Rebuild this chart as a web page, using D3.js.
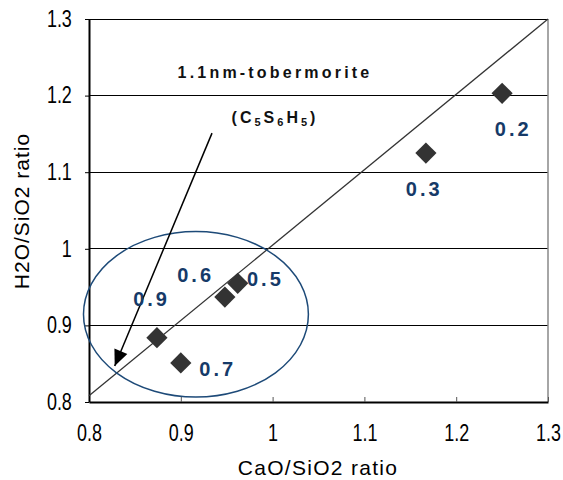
<!DOCTYPE html>
<html><head><meta charset="utf-8">
<script src="https://cdn.jsdelivr.net/npm/d3@7/dist/d3.min.js"></script>
<style>body{margin:0;background:#fff}svg{display:block}</style>
</head><body>
<script>
const xTicks = [0.8, 0.9, 1.0, 1.1, 1.2, 1.3];
const xTickLabels = ["0.8", "0.9", "1", "1.1", "1.2", "1.3"];
const yTicks = [0.8, 0.9, 1.0, 1.1, 1.2, 1.3];
const yTickLabels = ["0.8", "0.9", "1", "1.1", "1.2", "1.3"];
const pointLabels = ["0.2", "0.3", "0.5", "0.6", "0.9", "0.7"];
const caoSio2 = [1.250, 1.167, 0.962, 0.948, 0.874, 0.900];
const h2oSio2 = [1.203, 1.125, 0.955, 0.937, 0.884, 0.851];
// label anchor positions in data units
const labelX = [1.26, 1.163, 0.99, 0.914, 0.866, 0.938];
const labelY = [1.156, 1.078, 0.961, 0.966, 0.934, 0.843];
const refLine = [[0.8, 0.808], [1.3, 1.3]];
const arrowFrom = [0.934, 1.151];
const arrowTo = [0.828, 0.847];
const ellipseC = [0.9165, 0.9145];
const ellipseR = [0.1225, 0.108];

const W = 563, H = 480;
const m = {l: 89, r: 548, t: 19, b: 402};
const svg = d3.select("body").append("svg").attr("width", W).attr("height", H);
const x = d3.scaleLinear().domain([0.8, 1.3]).range([m.l, m.r]);
const y = d3.scaleLinear().domain([0.8, 1.3]).range([m.b, m.t]);
const font = "'Liberation Sans', Arial, sans-serif";
const sx = 0.78;

// gridlines
svg.append("g").selectAll("line").data(yTicks.slice(1)).join("line")
  .attr("x1", m.l).attr("x2", m.r).attr("y1", d => y(d)).attr("y2", d => y(d))
  .attr("stroke", "#000").attr("stroke-width", 1).attr("shape-rendering", "crispEdges");
// right border
svg.append("line").attr("x1", m.r).attr("x2", m.r).attr("y1", m.t).attr("y2", m.b)
  .attr("stroke", "#888").attr("stroke-width", 1.5);

// axes
const xAxis = d3.axisBottom(x).tickValues(xTicks).tickFormat((d, i) => xTickLabels[i])
  .tickSizeInner(-5).tickSizeOuter(0).tickPadding(23);
const gx = svg.append("g").attr("transform", `translate(0,${m.b})`).call(xAxis);
gx.select(".domain").attr("stroke", "#000").attr("stroke-width", 2);
gx.selectAll(".tick line").attr("stroke", "#555");
gx.selectAll("text").attr("font-family", font).attr("font-size", 23).attr("fill", "#000")
  .attr("transform", `scale(${sx},1)`);

const yAxis = d3.axisLeft(y).tickValues(yTicks).tickFormat((d, i) => yTickLabels[i])
  .tickSizeInner(4).tickSizeOuter(0).tickPadding(18);
const gy = svg.append("g").attr("transform", `translate(${m.l},0)`).call(yAxis);
gy.select(".domain").attr("stroke", "#000").attr("stroke-width", 2);
gy.selectAll(".tick line").attr("stroke", "#000");
gy.selectAll("text").attr("font-family", font).attr("font-size", 23).attr("fill", "#000")
  .attr("transform", `scale(${sx},1)`);

// reference line
svg.append("line")
  .attr("x1", x(refLine[0][0])).attr("y1", y(refLine[0][1]))
  .attr("x2", x(refLine[1][0])).attr("y2", y(refLine[1][1]))
  .attr("stroke", "#333").attr("stroke-width", 1.3);

// ellipse
svg.append("ellipse")
  .attr("cx", x(ellipseC[0])).attr("cy", y(ellipseC[1]))
  .attr("rx", x(ellipseC[0] + ellipseR[0]) - x(ellipseC[0]))
  .attr("ry", y(ellipseC[1]) - y(ellipseC[1] + ellipseR[1]))
  .attr("fill", "none").attr("stroke", "#1d4a78").attr("stroke-width", 1.5);

// arrow
svg.append("line")
  .attr("x1", x(arrowFrom[0])).attr("y1", y(arrowFrom[1]))
  .attr("x2", x(arrowTo[0])).attr("y2", y(arrowTo[1]))
  .attr("stroke", "#000").attr("stroke-width", 1.5);
{
  const x1 = x(arrowFrom[0]), y1 = y(arrowFrom[1]), x2 = x(arrowTo[0]), y2 = y(arrowTo[1]);
  const a = Math.atan2(y2 - y1, x2 - x1), L = 16, w = 7;
  const bx = x2 - L * Math.cos(a), by = y2 - L * Math.sin(a);
  const px = -Math.sin(a) * w, py = Math.cos(a) * w;
  svg.append("path").attr("d", `M${x2},${y2}L${bx + px},${by + py}L${bx - px},${by - py}Z`).attr("fill", "#000");
}

// points
const sym = d3.symbol().type(d3.symbolSquare).size(225);
svg.append("g").selectAll("path").data(caoSio2).join("path")
  .attr("d", sym)
  .attr("transform", (d, i) => `translate(${x(d)},${y(h2oSio2[i])}) rotate(45)`)
  .attr("fill", "#333");

// point labels
svg.append("g").selectAll("text").data(pointLabels).join("text")
  .attr("x", (d, i) => x(labelX[i]) + 2).attr("y", (d, i) => y(labelY[i]))
  .attr("text-anchor", "middle").attr("dominant-baseline", "central")
  .attr("font-family", font).attr("font-weight", "bold").attr("font-size", 20)
  .attr("letter-spacing", 3).attr("fill", "#163a68").text(d => d);

// annotation
svg.append("text").attr("x", 275).attr("y", 78).attr("text-anchor", "middle")
  .attr("font-family", font).attr("font-weight", "bold").attr("font-size", 16)
  .attr("letter-spacing", 3.2).attr("fill", "#111").text("1.1nm-tobermorite");
const sub = svg.append("text").attr("x", 275).attr("y", 123).attr("text-anchor", "middle")
  .attr("font-family", font).attr("font-weight", "bold").attr("font-size", 16)
  .attr("letter-spacing", 3).attr("fill", "#111");
sub.append("tspan").text("(C");
sub.append("tspan").attr("font-size", 11).attr("dy", 3).text("5");
sub.append("tspan").attr("dy", -3).text("S");
sub.append("tspan").attr("font-size", 11).attr("dy", 3).text("6");
sub.append("tspan").attr("dy", -3).text("H");
sub.append("tspan").attr("font-size", 11).attr("dy", 3).text("5");
sub.append("tspan").attr("dy", -3).text(")");

// axis titles
svg.append("text").attr("x", 318).attr("y", 475).attr("text-anchor", "middle")
  .attr("font-family", font).attr("font-size", 21).attr("letter-spacing", 1.3)
  .attr("fill", "#000").text("CaO/SiO2 ratio");
svg.append("text").attr("transform", "translate(29,211) rotate(-90)").attr("text-anchor", "middle")
  .attr("font-family", font).attr("font-size", 21).attr("letter-spacing", 1)
  .attr("fill", "#000").text("H2O/SiO2 ratio");
</script>
</body></html>
